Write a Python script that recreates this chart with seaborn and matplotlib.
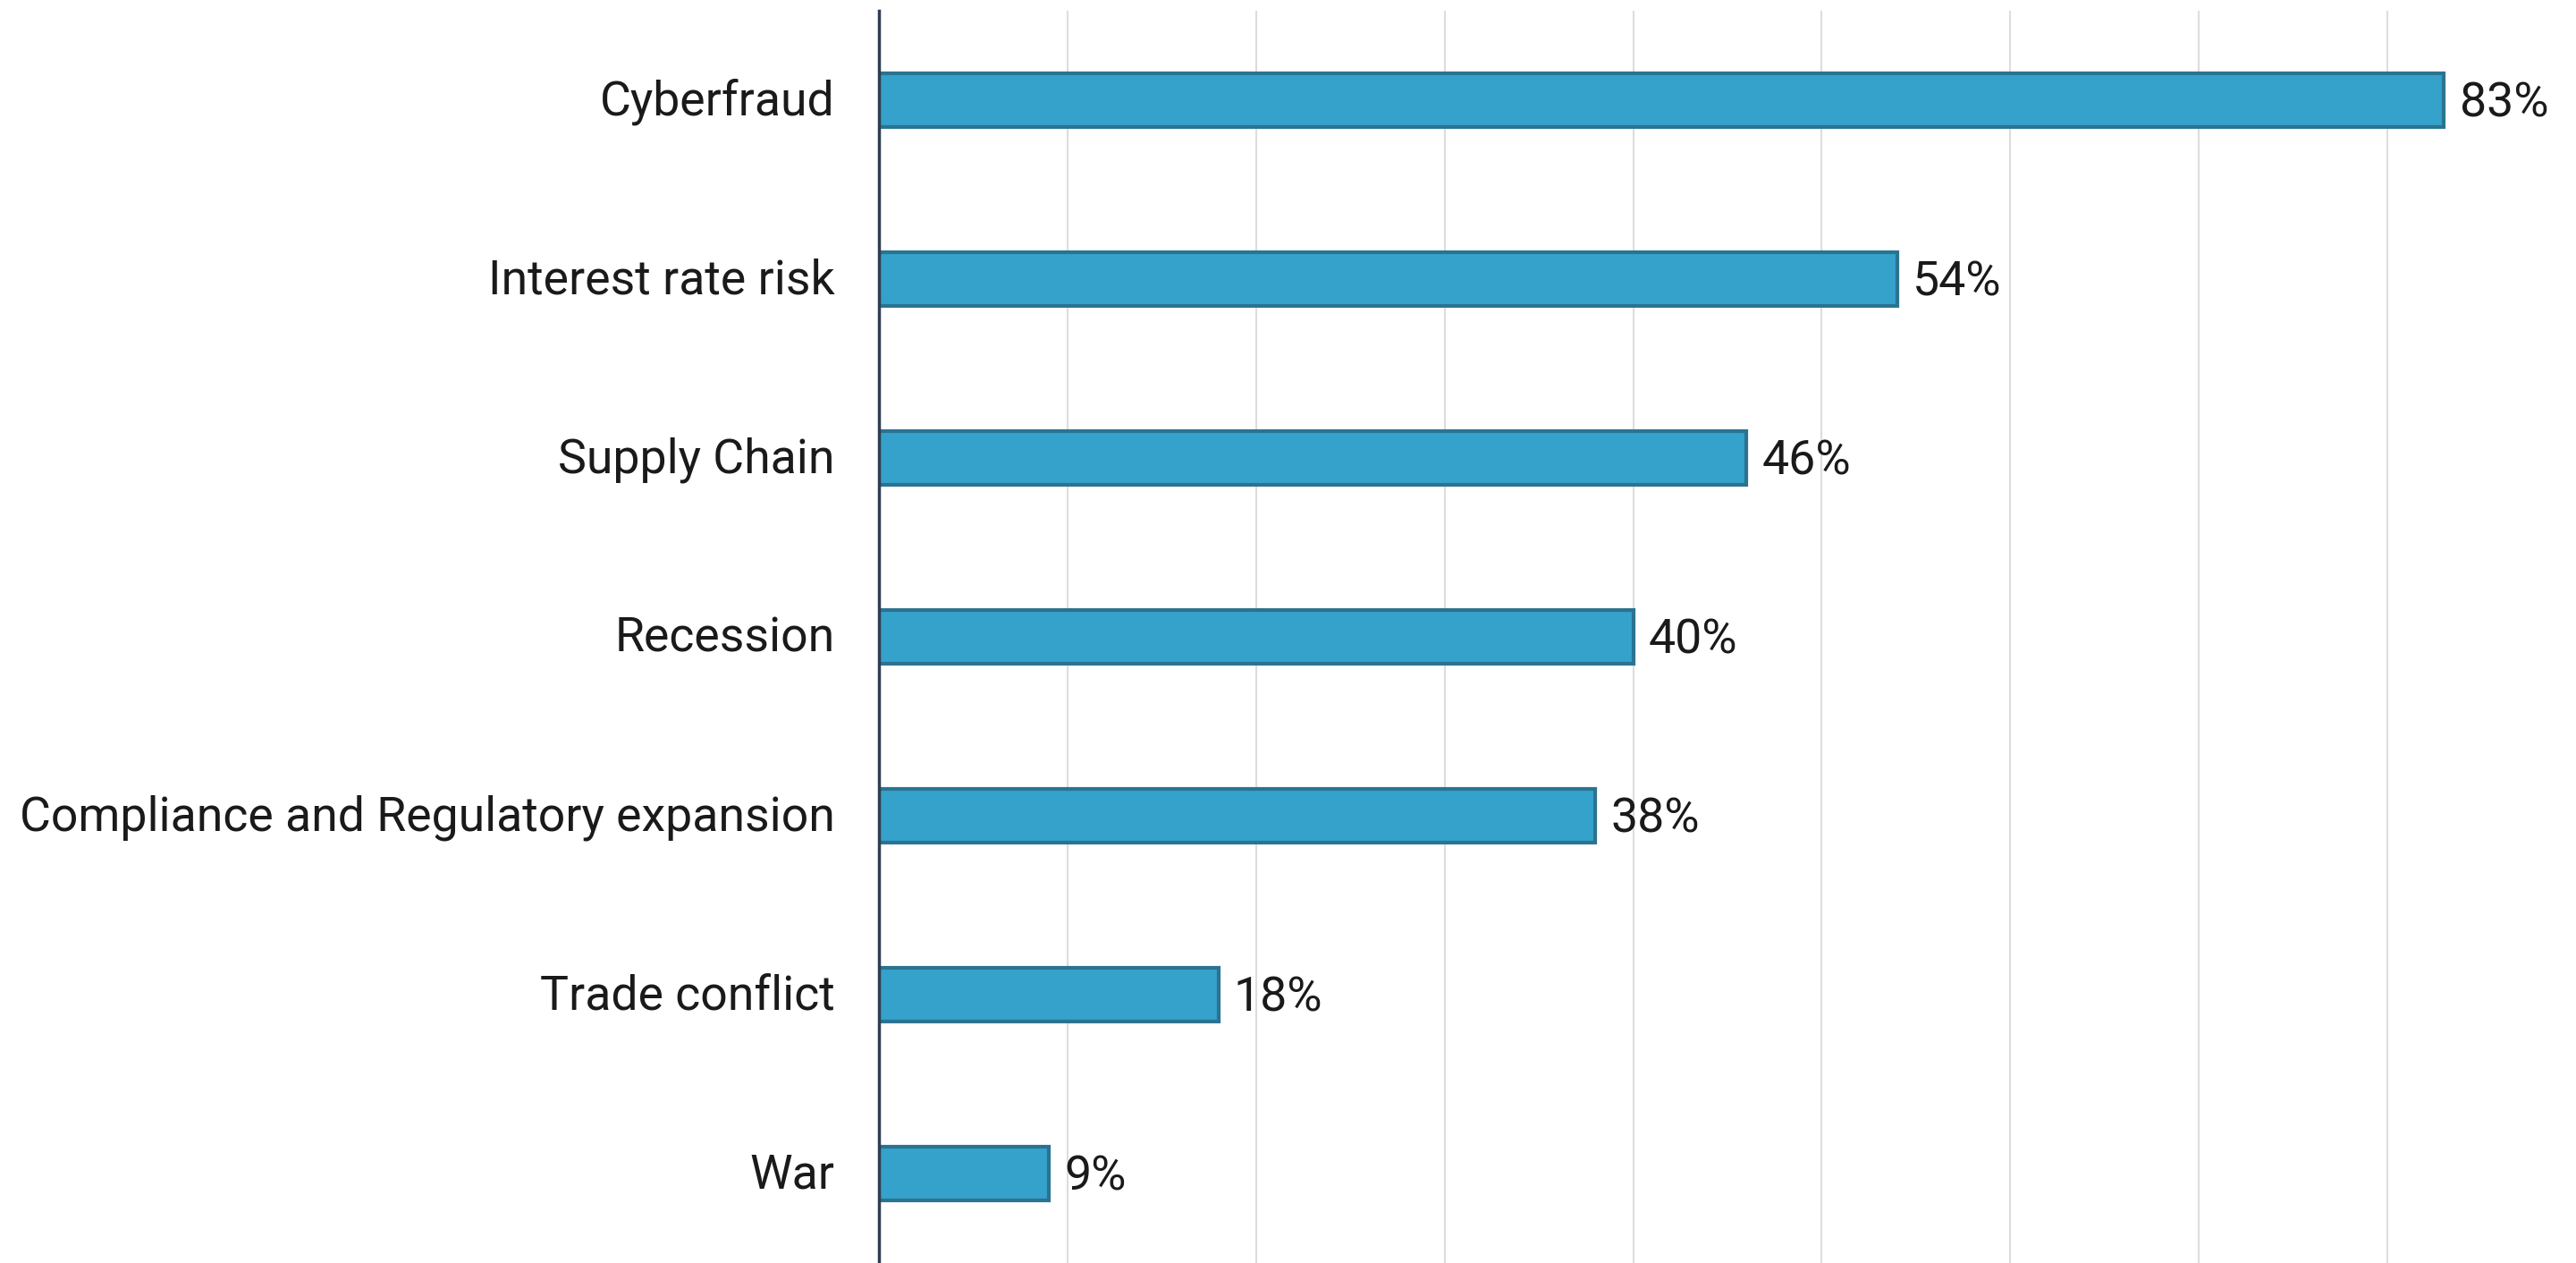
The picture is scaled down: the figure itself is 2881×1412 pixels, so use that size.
import matplotlib
matplotlib.use("Agg")
import matplotlib.pyplot as plt
import matplotlib.transforms as mtransforms
import seaborn as sns
import pandas as pd

categories = [
    "Cyberfraud",
    "Interest rate risk",
    "Supply Chain",
    "Recession",
    "Compliance and Regulatory expansion",
    "Trade conflict",
    "War",
]
shares = [83, 54, 46, 40, 38, 18, 9]

df = pd.DataFrame({"risk": categories, "share": shares})

sns.set_theme(style="white")
plt.rcParams["font.family"] = ["Roboto", "DejaVu Sans"]

fig = plt.figure(figsize=(28.81, 14.12), dpi=100)
ax = fig.add_axes([983 / 2881, 0, 1 - 983 / 2881, 1 - 12 / 1412])

sns.barplot(
    data=df, x="share", y="risk", orient="h", ax=ax,
    color="#35A2CB", saturation=1, width=0.3,
    edgecolor="#2A7391", linewidth=3,
)

ax.set_xlim(0, 90)
ax.set_ylim(6.5, -0.5)
ax.set_xticks(range(10, 90, 10))
ax.xaxis.grid(True, color="#DDDDDD", linewidth=1.5)
ax.set_axisbelow(True)
ax.tick_params(axis="x", bottom=False, labelbottom=False)
ax.tick_params(axis="y", left=False, pad=29.5, labelsize=38.6, labelcolor="#1A1A1A")
ax.set_xlabel("")
ax.set_ylabel("")

for side in ("top", "right", "bottom"):
    ax.spines[side].set_visible(False)
ax.spines["left"].set_color("#2E3E50")
ax.spines["left"].set_linewidth(2.5)

# nudge category labels so their cap height sits on the bar centre
lift = mtransforms.ScaledTranslation(0, 0.035, fig.dpi_scale_trans)
for lab in ax.get_yticklabels():
    lab.set_transform(lab.get_transform() + lift)

value_labels = ax.bar_label(ax.containers[0], labels=[f"{v}%" for v in shares],
                            padding=12.5, fontsize=38.6, color="#1A1A1A")
for t in value_labels:
    t.xyann = (12.5, -3.2)

fig.savefig("out.png", dpi=100)
